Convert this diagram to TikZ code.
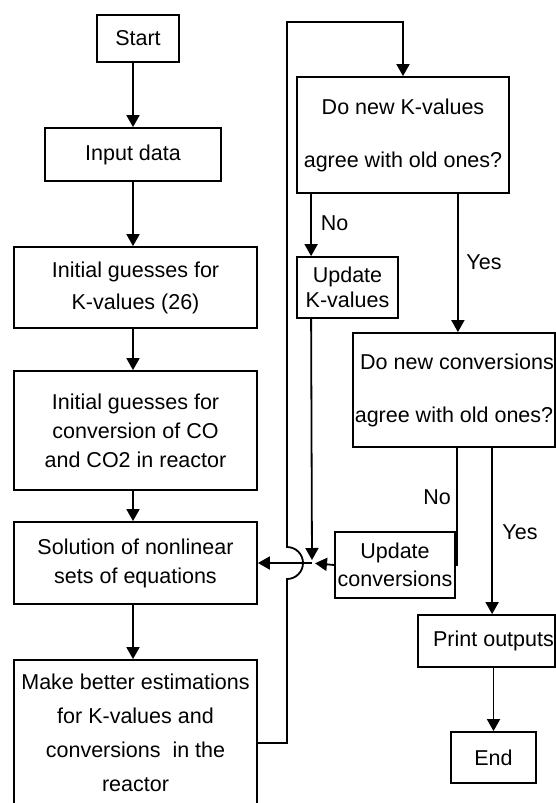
\documentclass[tikz,border=0pt]{standalone}
\usepackage{fontspec}
\setmainfont{Liberation Sans}
\usetikzlibrary{arrows.meta}
\def\hop{arc[start angle=-90,end angle=90,radius=16pt]}

\begin{document}
\begin{tikzpicture}[x=1pt,y=-1pt,line width=1.8pt,
		box/.style={draw,rectangle,inner sep=0pt,align=center,font=\fontsize{21.5}{29}\selectfont},
		arr/.style={-{Triangle[length=12pt,width=13pt]}},
		lbl/.style={font=\fontsize{21.5}{25}\selectfont,inner sep=0pt}]
	\useasboundingbox (0,0) rectangle (555,803);
	\node[box,minimum width=82pt,minimum height=47pt] (start) at (138,38.5) {Start};
	\node[box,minimum width=176pt,minimum height=53pt] (input) at (133,154.5) {Input data};
	\node[box,minimum width=243pt,minimum height=81pt] (initK) at (135.5,287.5) {Initial guesses for\\[3pt] K-values (26)};
	\node[box,minimum width=243pt,minimum height=119pt] (initC) at (135.5,430.5) {Initial guesses for\\ conversion of CO\\ and CO2 in reactor};
	\node[box,minimum width=243pt,minimum height=82pt] (solve) at (135.5,563) {Solution of nonlinear\\ sets of equations};
	\node[box,minimum width=243pt,minimum height=146pt] (better) at (135.5,733) {Make better estimations\\[5pt] for K-values and\\[5pt] conversions\ \ in the\\[5pt] reactor};
	\node[box,minimum width=212pt,minimum height=116pt] (chkK) at (403,135) {Do new K-values\\[24pt] agree with old ones?};
	\node[box,minimum width=101pt,minimum height=61pt] (updK) at (347.5,287.5) {Update\\[-4pt] K-values};
	\node[box,minimum width=202pt,minimum height=114pt] (chkC) at (454,390) {\hspace*{6pt}Do new conversions\\[24pt] agree with old ones?};
	\node[box,minimum width=120pt,minimum height=66pt] (updC) at (395,565) {Update\\[-1pt] conversions};
	\node[box,minimum width=137pt,minimum height=52pt] (print) at (486.5,641) {\hspace*{14pt}Print outputs};
	\node[box,minimum width=85pt,minimum height=51pt] (stop) at (493.5,757.5) {End};
	\coordinate (jn) at (312,563);
	\node[lbl] (noK) at (334.5,223) {No};
	\node[lbl] (yesK) at (484,262) {Yes};
	\node[lbl] (noC) at (437,497) {No};
	\node[lbl] (yesC) at (520,532) {Yes};

	\draw[arr] (start.south -| input.north) -- (input.north);
	\draw[arr] (input.south) -- (input.south |- initK.north);
	\draw[arr] (input.south |- initK.south) -- (input.south |- initC.north);
	\draw[arr] (input.south |- initC.south) -- (input.south |- solve.north);
	\draw[arr] (input.south |- solve.south) -- (input.south |- better.north);
	\draw[arr] ([yshift=-10pt]better.east) -- (287,743) -- (287,579) \hop -- (287,22) -| (chkK.north);
	\draw[arr] ([xshift=15pt]chkK.south west) -- ([xshift=15pt]updK.north west);
	\draw[arr,shorten >=3pt] ([xshift=15pt]updK.south west) -- (jn);
	\draw[arr,shorten >=3pt] (updC.west) -- (jn);
	\draw[arr] (jn) -- (solve.east);
	\draw[arr] ([xshift=-52pt]chkK.south east) -- ([xshift=-52pt]chkK.south east |- chkC.north);
	\draw ([xshift=105pt]chkC.south west) |- (updC.east);
	\draw[arr] ([xshift=140pt]chkC.south west) -- ([xshift=140pt]chkC.south west |- print.north);
	\draw[arr] (print.south -| stop.north) -- (stop.north);
\end{tikzpicture}
\end{document}
